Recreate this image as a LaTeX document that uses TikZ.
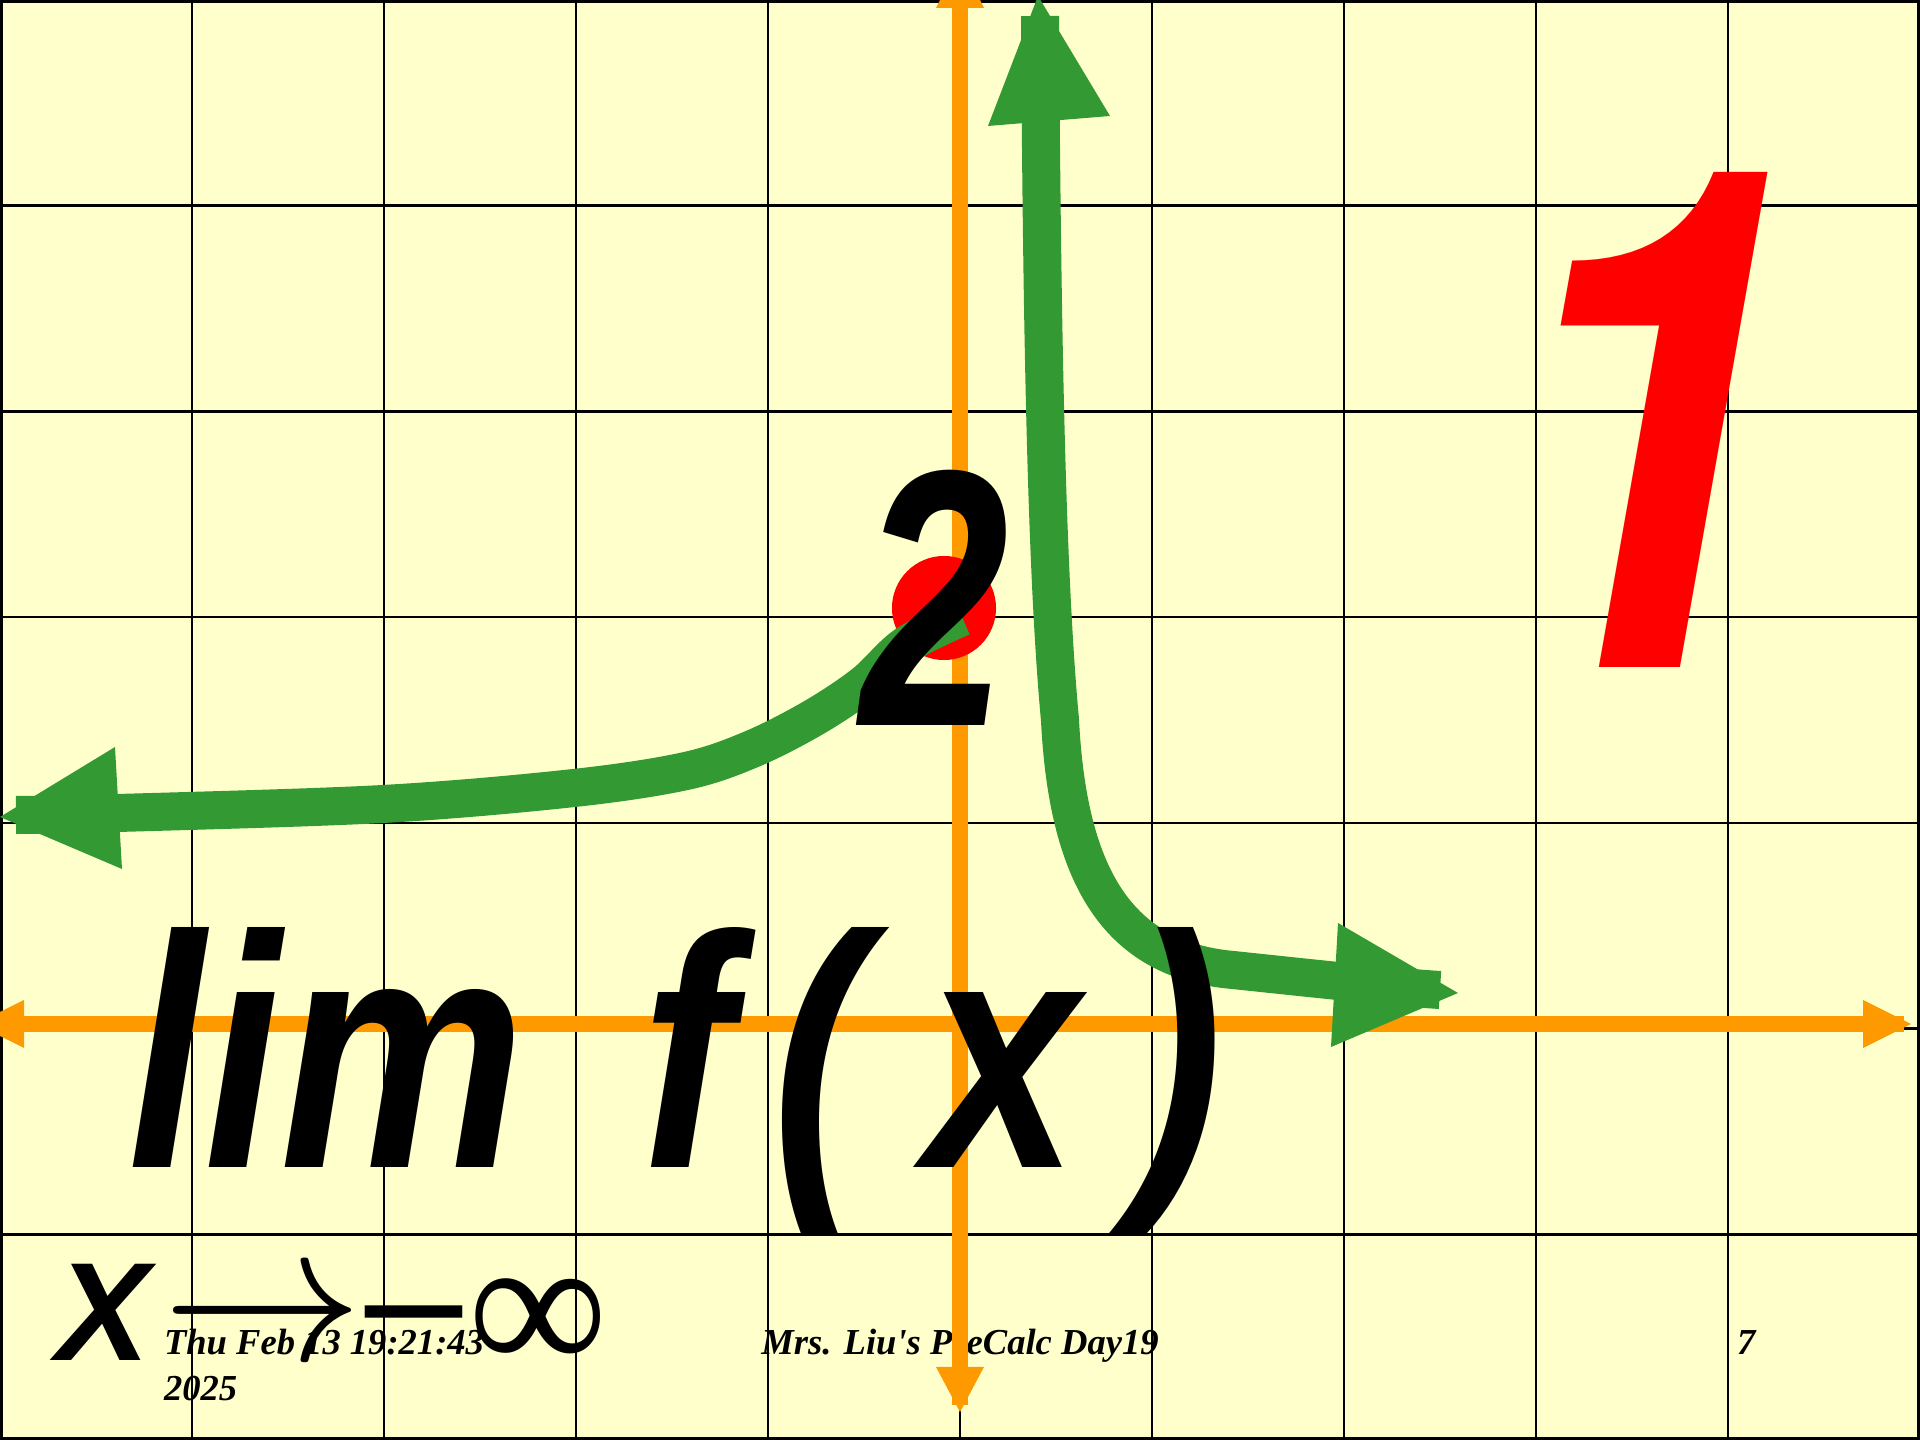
\documentclass[tikz,border=0pt]{standalone}
\usepackage{graphicx}
\usepackage{fontspec}
\setmainfont{Liberation Serif}
\newfontfamily\bigsans{Liberation Sans}
\newfontfamily\heros{TeX Gyre Heros}
\newfontfamily\serifrm{Liberation Serif}
\definecolor{paper}{HTML}{FFFFCC}
\definecolor{axisorange}{HTML}{FF9900}
\definecolor{graphgreen}{HTML}{339933}
\definecolor{dotred}{HTML}{FF0000}
\newcommand{\narrow}[1]{\scalebox{0.83}[1]{#1}}
\begin{document}
\begin{tikzpicture}[x=0.01cm,y=-0.01cm,
  gridline/.style={black,line width=0.025cm},
  axisline/.style={draw=axisorange,line width=0.16cm},
  axishead/.style={fill=axisorange},
  graphline/.style={draw=graphgreen,line width=0.38cm,line cap=butt,line join=round},
  graphhead/.style={fill=graphgreen},
  lbl/.style={inner sep=0pt,outer sep=0pt},
  foot/.style={lbl,font=\serifrm\bfseries\itshape\fontsize{10.4pt}{12pt}\selectfont}]
\useasboundingbox (0,0) rectangle (1920,1440);
\clip (0,0) rectangle (1920,1440);
\fill[paper] (0,0) rectangle (1920,1440);
% grid
\foreach \i in {1,...,9} \draw[gridline] (\i*192,0) -- (\i*192,1440);
\foreach \j in {1,...,6} \draw[gridline] (0,\j*205.714) -- (1920,\j*205.714);
\draw[black,line width=0.06cm] (0,0) rectangle (1920,1440);
% footer
\node[foot,anchor=base west] (date1) at (164,1355) {Thu Feb 13 19:21:43};
\node[foot,anchor=base west] (date2) at (164,1400) {2025};
\node[foot,anchor=base] (title) at (960,1355) {Mrs. Liu's PreCalc Day19};
\node[foot,anchor=base west] (page) at (1737,1355) {7};
% axes
\draw[axisline] (20,1024) -- (1904,1024);
\fill[axishead] (-24,1024) -- (24,1000) -- (24,1048) -- cycle;
\fill[axishead] (1911,1024) -- (1863,1000) -- (1863,1048) -- cycle;
\draw[axisline] (960,4) -- (960,1405);
\fill[axishead] (960,-40) -- (936,8) -- (984,8) -- cycle;
\fill[axishead] (960,1412) -- (936,1367) -- (984,1367) -- cycle;
% red dot
\fill[dotred] (944,608) circle[radius=0.52cm];
% graph
\draw[graphline] plot[smooth,tension=0.55] coordinates {(962,617) (906,645) (864,684) (813,718) (752,749) (686,771) (574,788) (383,804) (118,813) (16,815)};
\fill[graphhead] (0,817) -- (115,747) -- (122,869) -- cycle;
\coordinate (rtop) at (1040,16);
\coordinate (rbend) at (1060,720);
\coordinate (rflat) at (1233,970);
\coordinate (rend) at (1440,990);
\draw[graphline] (rtop) .. controls (1042,350) and (1047,580) .. (rbend)
  .. controls (1068,880) and (1120,960) .. (rflat)
  .. controls (1300,977) and (1390,987) .. (rend);
\fill[graphhead] (1038,-4) -- (988,126) -- (1110,116) -- cycle;
\fill[graphhead] (1458,993) -- (1338,923) -- (1331,1047) -- cycle;
% big texts
\node[lbl,anchor=base west,font=\bigsans\bfseries\itshape\fontsize{94.2pt}{100pt}\selectfont] (lim) at (128,1168) {\narrow{lim \kern13.7pt f\kern13.4pt( \kern-5.2pt x \kern-7.9pt)}};
\node[lbl,anchor=base west,font=\bigsans\bfseries\itshape\fontsize{104pt}{110pt}\selectfont] (two) at (860,726) {\scalebox{0.73}[1]{2}};
\node[lbl,anchor=base west,text=dotred,font=\heros\bfseries\itshape\fontsize{198.6pt}{210pt}\selectfont] (one) at (1484,668) {\narrow{1}};
\node[lbl,anchor=base west] (xto) at (57,1361) {{\bigsans\bfseries\itshape\fontsize{39.8pt}{42pt}\selectfont X}\kern3.4pt\scalebox{5.7}{\fontsize{10pt}{12pt}\selectfont$\rightarrow$}{\serifrm\fontsize{54pt}{56pt}\selectfont\kern1pt\raisebox{-2.4pt}{\scalebox{1}[1.3]{–}}\kern2pt\raisebox{-3.6pt}{\scalebox{1.03}[1.04]{∞}}}};
\end{tikzpicture}
\end{document}
